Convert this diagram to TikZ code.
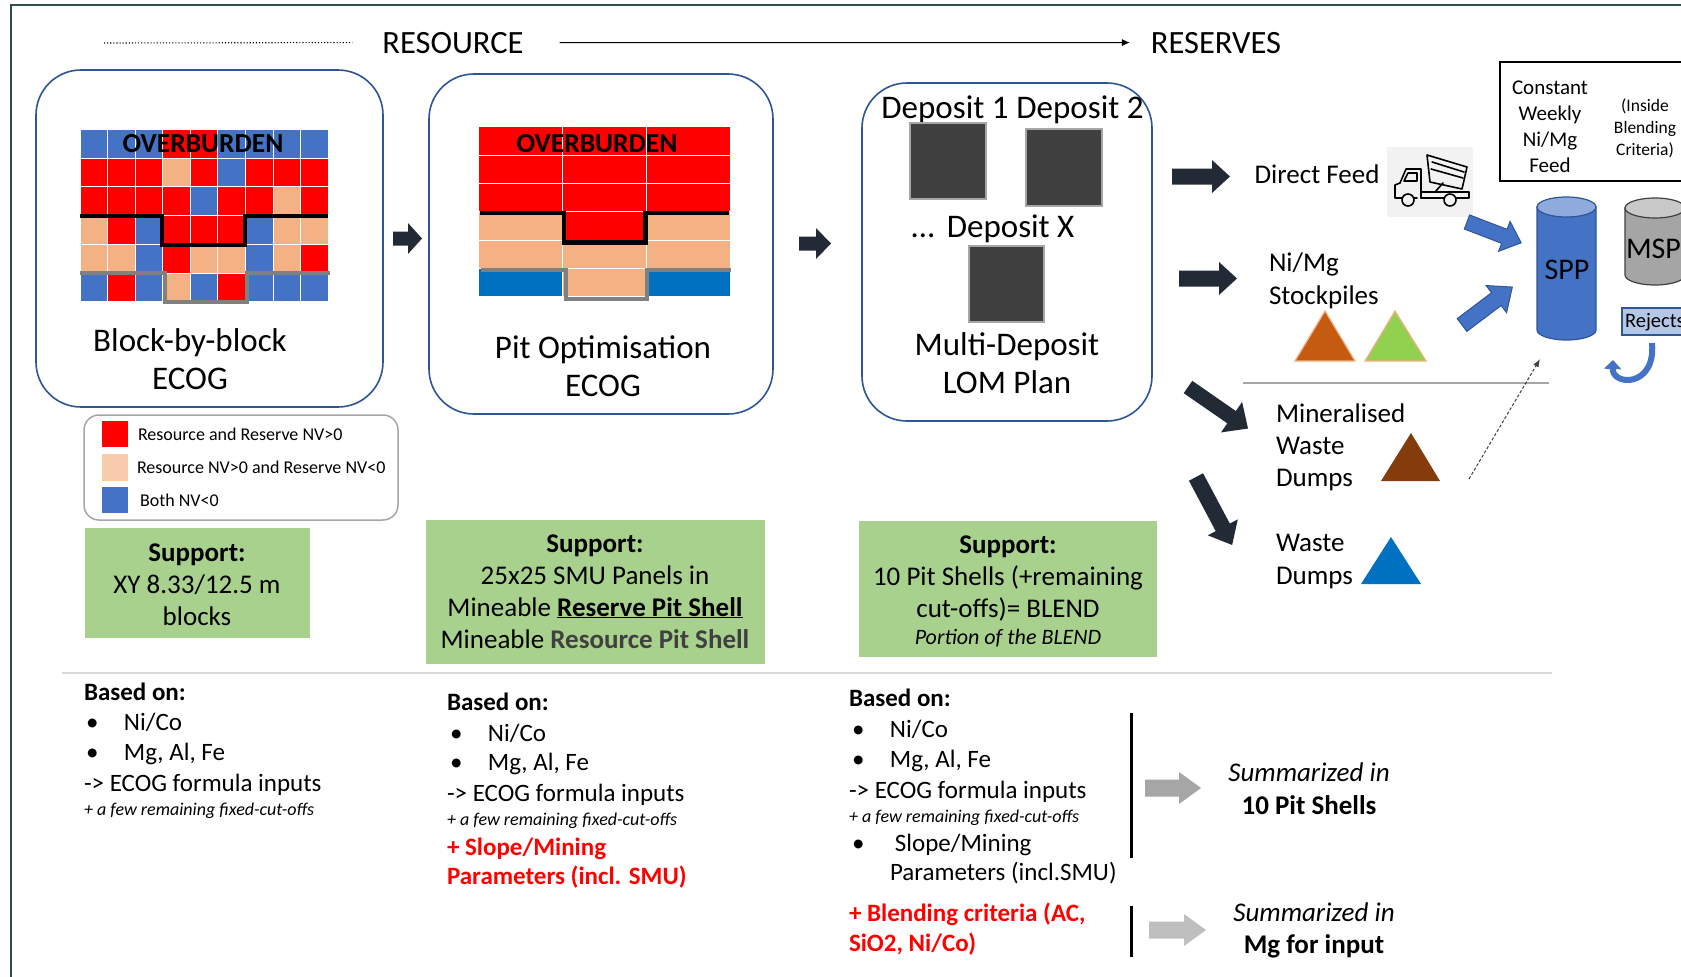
\documentclass[tikz,border=0pt]{standalone}
\usepackage{fontspec}
\setmainfont{Carlito}
\usetikzlibrary{arrows.meta}

\definecolor{rd}{HTML}{FF0000}
\definecolor{pch}{HTML}{F4B183}
\definecolor{pchl}{HTML}{F8CBAD}
\definecolor{blu}{HTML}{4472C4}
\definecolor{blutwo}{HTML}{0070C0}
\definecolor{edgeblue}{HTML}{2F5597}
\definecolor{grn}{HTML}{A9D18E}
\definecolor{darkarrow}{HTML}{222A35}
\definecolor{sqgray}{HTML}{404040}
\definecolor{sqborder}{HTML}{A6A6A6}
\definecolor{framec}{HTML}{2F4F4F}
\definecolor{orangetri}{HTML}{C55A11}
\definecolor{greentri}{HTML}{92D050}
\definecolor{browntri}{HTML}{843C0C}
\definecolor{spptop}{HTML}{8FAADC}
\definecolor{mspgray}{HTML}{A5A5A5}
\definecolor{msptop}{HTML}{C9C9C9}
\definecolor{rejfill}{HTML}{B4C7E7}
\definecolor{truckbg}{HTML}{F2F2F2}
\definecolor{arrowgrayA}{HTML}{A6A6A6}
\definecolor{arrowgrayB}{HTML}{BFBFBF}
\definecolor{rulegray}{HTML}{D9D9D9}
\definecolor{legendedge}{HTML}{A6A6A6}
\colorlet{cR}{rd}
\colorlet{cP}{pch}
\colorlet{cB}{blu}
\colorlet{cX}{blutwo}

% font size in points (1pt = 1 unit of the picture)
\newcommand{\fz}[1]{\fontsize{#1pt}{#1pt}\selectfont}
% block arrow: style, tail point, angle, length, shaft half width, head half width, head length
\newcommand{\bigarrow}[7]{%
  \path[#1, shift={#2}, rotate=#3] (0,-#5) -- ({#4-#7},-#5) -- ({#4-#7},-#6) -- (#4,0)
    -- ({#4-#7},#6) -- ({#4-#7},#5) -- (0,#5) -- cycle;}

\begin{document}
\begin{tikzpicture}[x=1pt, y=-1pt,
  txt/.style={inner sep=0pt, outer sep=0pt},
  panel/.style={draw=edgeblue, line width=1.6pt, rounded corners=45pt},
  cell/.style={draw=white, line width=0.8pt},
  pitblack/.style={line width=4.5pt, line join=miter, black},
  pitgray/.style={line width=4pt, line join=miter, gray},
  depo/.style={fill=sqgray, draw=sqborder, line width=1.5pt},
  tri/.style={line width=1.2pt, line join=miter},
  darkblk/.style={fill=darkarrow},
  blueblk/.style={fill=blu, draw=edgeblue, line width=1pt},
  body/.style={txt, font=\fz{25}},
  small/.style={txt, font={\fz{18}\itshape}},
  redb/.style={txt, font={\fz{25}\bfseries}, text=rd},
  big/.style={txt, font=\fz{33}},
  side/.style={txt, font=\fz{27}},
  supp/.style={txt, font=\fz{27}},
]
\useasboundingbox (0,0) rectangle (1681,977);
\fill[white] (0,0) rectangle (1681,977);

% outer frame
\draw[framec, line width=2pt] (11,977) -- (11,5) -- (1681,5);

% ---------- header ----------
\node[txt, anchor=base, font=\fz{32.5}] (resource) at (453,53) {RESOURCE};
\node[txt, anchor=base, font=\fz{32.5}] (reserves) at (1216,53) {RESERVES};
\coordinate (dotstart) at (104,43);
\draw[dotted, line width=1.1pt] (dotstart) -- ([xshift=-30pt]resource.west);
\draw[line width=1pt, -{Latex[length=8pt,width=7pt]}] ([xshift=36pt]resource.east) -- ([xshift=-21pt]reserves.west);

% ---------- panels ----------
\draw[panel] (36,70) rectangle (383,407);
\draw[panel] (429,74) rectangle (773,414);
\draw[panel] (862,83) rectangle (1152,421);

% block-by-block grid
\foreach \row [count=\r] in {{B,B,B,R,R,B,B,B,B},{R,R,R,P,R,B,R,R,R},{R,R,R,R,B,R,R,P,R},
                             {P,R,B,R,R,R,B,P,P},{P,P,B,R,P,P,B,P,R},{B,R,B,P,B,R,B,B,B}}
  \foreach \c [count=\k] in \row
    \path[cell, fill=c\c] ({80+(\k-1)*27.56},{129.3+(\r-1)*28.73}) rectangle ++(27.56,28.73);
\draw[pitblack] (80,216) -- (162,216) -- (162,245) -- (245,245) -- (245,216) -- (328,216);
\draw[pitgray] (80,273.3) -- (165,273.3) -- (165,301.7) -- (246.7,301.7) -- (246.7,273.3) -- (330,273.3);
\node[txt, anchor=base, font={\fz{27.5}\bfseries}] (obone) at (203,152) {OVERBURDEN};

% pit optimisation grid
\foreach \row [count=\r] in {{R,R,R},{R,R,R},{R,R,R},{P,R,P},{P,P,P},{X,P,X}}
  \foreach \c [count=\k] in \row
    \path[cell, fill=c\c] ({478+(\k-1)*84},{126.7+(\r-1)*28.33}) rectangle ++(84,28.33);
\draw[pitblack] (480,213) -- (564,213) -- (564,242.7) -- (645.7,242.7) -- (645.7,213) -- (729,213);
\draw[pitgray] (481,270) -- (566,270) -- (566,299) -- (646.7,299) -- (646.7,270) -- (731,270);
\node[txt, anchor=base, font={\fz{27.5}\bfseries}] (obtwo) at (597,152) {OVERBURDEN};

% panel captions
\node[big, anchor=base] (bbb) at (190,351) {Block-by-block};
\node[big, anchor=base] (ecogone) at (190,389) {ECOG};
\node[big, anchor=base] (pitopt) at (603,358) {Pit Optimisation};
\node[big, anchor=base] (ecogtwo) at (603,396) {ECOG};

% deposits
\node[big, anchor=base] (depone) at (945,118) {Deposit 1};
\node[big, anchor=base] (deptwo) at (1080,118) {Deposit 2};
\path[depo] (910,123) rectangle (986,199);
\path[depo] (1026,129) rectangle (1102,206);
\node[big, anchor=base] (depx) at (993,237) {…\hspace{5pt} Deposit X};
\path[depo] (969,246) rectangle (1044,322);
\node[big, anchor=base] (multi) at (1007,355) {Multi-Deposit};
\node[big, anchor=base] (lom) at (1007,393) {LOM Plan};

% arrows between panels
\bigarrow{darkblk}{(393,238.5)}{0}{29}{7}{15.5}{14}
\bigarrow{darkblk}{(799,243.5)}{0}{32}{7}{15.5}{15}

% ---------- legend ----------
\draw[legendedge, line width=1.5pt, rounded corners=15pt] (84,415) rectangle (398,520);
\fill[rd] (102,421) rectangle (128,447);
\fill[pchl] (102,454) rectangle (128,481);
\fill[blu] (102,487) rectangle (128,513);
\node[txt, anchor=base west, font=\fz{18}] (legone) at (138,440) {Resource and Reserve NV>0};
\node[txt, anchor=base west, font=\fz{18}] (legtwo) at (137,473) {Resource NV>0 and Reserve NV<0};
\node[txt, anchor=base west, font=\fz{18}] (legthree) at (140,506) {Both NV<0};

% ---------- support boxes ----------
\fill[grn] (85,528) rectangle (310,638);
\node[supp, anchor=base, font={\fz{27}\bfseries}] (sone) at (197,561) {Support:};
\node[supp, anchor=base] (sonea) at (197,593) {XY 8.33/12.5 m};
\node[supp, anchor=base] (soneb) at (197,625) {blocks};

\fill[grn] (426,520) rectangle (765,664);
\node[supp, anchor=base, font={\fz{27}\bfseries}] (stwo) at (595,552) {Support:};
\node[supp, anchor=base] (stwoa) at (595,584) {25x25 SMU Panels in};
\node[supp, anchor=base] (stwob) at (595,616) {Mineable \underline{\textbf{Reserve Pit Shell}}};
\node[supp, anchor=base] (stwoc) at (595,648) {Mineable {\bfseries\color{sqgray}Resource Pit Shell}};

\fill[grn] (859,521) rectangle (1157,657);
\node[supp, anchor=base, font={\fz{27}\bfseries}] (sthree) at (1008,553) {Support:};
\node[supp, anchor=base] (sthreea) at (1008,585) {10 Pit Shells (+remaining};
\node[supp, anchor=base] (sthreeb) at (1008,617) {cut-offs)= BLEND};
\node[txt, anchor=base, font={\fz{22}\itshape}] (sthreec) at (1008,644) {Portion of the BLEND};

% ---------- separator ----------
\draw[rulegray, line width=2pt] (62,673) -- (1552,673);

% ---------- inputs, column 1 ----------
\node[body, anchor=base west, font={\fz{25}\bfseries}] (aone) at (84,700) {Based on:};
\node[body, anchor=base west] (aoneb) at (86,730) {\makebox[38pt][l]{•}Ni/Co};
\node[body, anchor=base west] (aonec) at (86,760) {\makebox[38pt][l]{•}Mg, Al, Fe};
\node[body, anchor=base west] (aoned) at (84,791) {-> ECOG formula inputs};
\node[small, anchor=base west] (aonee) at (84,815) {+ a few remaining fixed-cut-offs};

% ---------- inputs, column 2 ----------
\node[body, anchor=base west, font={\fz{25}\bfseries}] (atwo) at (447,710) {Based on:};
\node[body, anchor=base west] (atwob) at (450,741) {\makebox[38pt][l]{•}Ni/Co};
\node[body, anchor=base west] (atwoc) at (450,770) {\makebox[38pt][l]{•}Mg, Al, Fe};
\node[body, anchor=base west] (atwod) at (447,801) {-> ECOG formula inputs};
\node[small, anchor=base west] (atwoe) at (447,825) {+ a few remaining fixed-cut-offs};
\node[redb, anchor=base west] (atwof) at (447,855) {+ Slope/Mining};
\node[redb, anchor=base west] (atwog) at (447,884) {Parameters (incl. SMU)};

% ---------- inputs, column 3 ----------
\node[body, anchor=base west, font={\fz{25}\bfseries}] (athree) at (849,706) {Based on:};
\node[body, anchor=base west] (athreeb) at (852,737) {\makebox[38pt][l]{•}Ni/Co};
\node[body, anchor=base west] (athreec) at (852,767) {\makebox[38pt][l]{•}Mg, Al, Fe};
\node[body, anchor=base west] (athreed) at (849,798) {-> ECOG formula inputs};
\node[small, anchor=base west] (athreee) at (849,822) {+ a few remaining fixed-cut-offs};
\node[body, anchor=base west] (athreef) at (852,851) {\makebox[43pt][l]{•}Slope/Mining};
\node[body, anchor=base west] (athreeg) at (890,880) {Parameters (incl.SMU)};
\node[redb, anchor=base west] (athreeh) at (849,921) {+ Blending criteria (AC,};
\node[redb, anchor=base west] (athreei) at (849,951) {SiO2, Ni/Co)};

\draw[line width=3pt] (1131,713) -- (1131,858);
\draw[line width=3pt] (1131,906) -- (1131,957);
\bigarrow{fill=arrowgrayA}{(1145,788)}{0}{56}{8.5}{16}{22}
\bigarrow{fill=arrowgrayB}{(1149,930)}{0}{57}{8.5}{16}{22}
\node[txt, anchor=base, font={\fz{27}\itshape}] (sumone) at (1309,781) {Summarized in};
\node[txt, anchor=base, font={\fz{27}\bfseries}] (sumonea) at (1309,814) {10 Pit Shells};
\node[txt, anchor=base, font={\fz{27}\itshape}] (sumtwo) at (1314,921) {Summarized in};
\node[txt, anchor=base, font={\fz{27}\bfseries}] (sumtwoa) at (1314,953) {Mg for input};

% ---------- destinations ----------
\bigarrow{darkblk}{(1172,176.5)}{0}{58}{8}{16.5}{18}
\bigarrow{darkblk}{(1179,278.5)}{0}{58}{8}{16.5}{18}
\bigarrow{darkblk}{(1188,387)}{-34.7}{73}{7.5}{18.5}{20}
\bigarrow{darkblk}{(1196,477)}{-62}{77}{8}{17}{20}

\node[side, anchor=base] (direct) at (1317,183) {Direct Feed};
\node[side, anchor=base west] (nimg) at (1269,271) {Ni/Mg};
\node[side, anchor=base west] (stock) at (1269,304) {Stockpiles};
\path[tri, fill=orangetri, draw=pch] (1295,361) -- (1325,311) -- (1355,361) -- cycle;
\path[tri, fill=greentri, draw=pch] (1365,361) -- (1395,311) -- (1426,361) -- cycle;
\draw[sqborder, line width=1.5pt] (1243,383) -- (1549,383);

\node[side, anchor=base west] (minw) at (1276,422) {Mineralised};
\node[side, anchor=base west] (minwb) at (1276,454) {Waste};
\node[side, anchor=base west] (minwc) at (1276,486) {Dumps};
\fill[browntri] (1381,481) -- (1411,433) -- (1440,481) -- cycle;

\node[side, anchor=base west] (waste) at (1276,551) {Waste};
\node[side, anchor=base west] (wasteb) at (1276,584) {Dumps};
\fill[blutwo] (1361,584) -- (1391,537) -- (1421,584) -- cycle;

% dump truck icon
\begin{scope}[shift={(1387,147)}]
  \fill[truckbg] (0,0) rectangle (86,70);
  \begin{scope}[line width=1.6pt, line join=round, line cap=round]
    \draw (34,51) -- (82,51) -- (82,45) -- (34,45);
    \draw (30,51) -- (8,51) -- (8,38) -- (13,36) -- (19,22) -- (34,22) -- (34,51);
    \draw (21,26) -- (30,26) -- (30,34) -- (17,34) -- cycle;
    \draw (40,8) -- (80,20) -- (75,42) -- (43,35) -- cycle;
    \draw (45,15) -- (77,25);
    \draw (44,22) -- (76,31);
    \draw (48,45) -- (56,36);
    \draw[fill=truckbg] (21,53) circle[radius=6pt];
    \draw[fill=truckbg] (63,53) circle[radius=6pt];
  \end{scope}
\end{scope}

% ---------- blending ----------
\draw[line width=2.5pt] (1710,62) -- (1500,62) -- (1500,181) -- (1710,181);
\node[txt, anchor=base, font=\fz{21}] (fa) at (1550,94) {Constant};
\node[txt, anchor=base, font=\fz{21}] (fb) at (1550,120) {Weekly};
\node[txt, anchor=base, font=\fz{21}] (fc) at (1550,146) {Ni/Mg};
\node[txt, anchor=base, font=\fz{21}] (fd) at (1550,172) {Feed};
\node[txt, anchor=base, font=\fz{17.5}] (ia) at (1645,111) {(Inside};
\node[txt, anchor=base, font=\fz{17.5}] (ib) at (1645,133) {Blending};
\node[txt, anchor=base, font=\fz{17.5}] (ic) at (1645,155) {Criteria)};

% SPP stockpile
\path[fill=blu, draw=edgeblue, line width=1.2pt] (1537,207) -- (1537,330)
  arc[start angle=180, end angle=360, x radius=29.5pt, y radius=10pt] -- (1596,207) -- cycle;
\path[fill=spptop, draw=edgeblue, line width=1.2pt] (1566.5,207) ellipse[x radius=29.5pt, y radius=10pt];
\node[txt, anchor=base, font=\fz{30}] (spp) at (1567,279) {SPP};

% MSP stockpile
\path[fill=mspgray, draw=darkgray, line width=1.2pt] (1625,208) -- (1625,275)
  arc[start angle=180, end angle=360, x radius=30pt, y radius=10pt] -- (1685,208) -- cycle;
\path[fill=msptop, draw=darkgray, line width=1.2pt] (1655,208) ellipse[x radius=30pt, y radius=10pt];
\node[txt, anchor=base west, font=\fz{30}] (msp) at (1626,258) {MSP};

% rejects
\path[fill=rejfill, draw=edgeblue, line width=1.2pt] (1622,308) rectangle (1710,335);
\node[txt, anchor=base west, font=\fz{20.5}] (rej) at (1625,327) {Rejects};
\draw[blu, line width=6pt, -{Triangle[length=9pt,width=17pt]}] (1652,343) .. controls (1656,388) and (1612,386) .. (1613,360);

\bigarrow{blueblk}{(1467,222)}{-21}{58}{7.5}{16}{18}
\bigarrow{blueblk}{(1462,325)}{37}{63}{8}{17}{20}

\coordinate (recl) at (1469,479);
\coordinate (recr) at (1540,359);
\draw[densely dashed, darkgray, line width=1pt, -{Latex[length=8pt,width=6pt]}] (recl) -- (recr);
\end{tikzpicture}
\end{document}
